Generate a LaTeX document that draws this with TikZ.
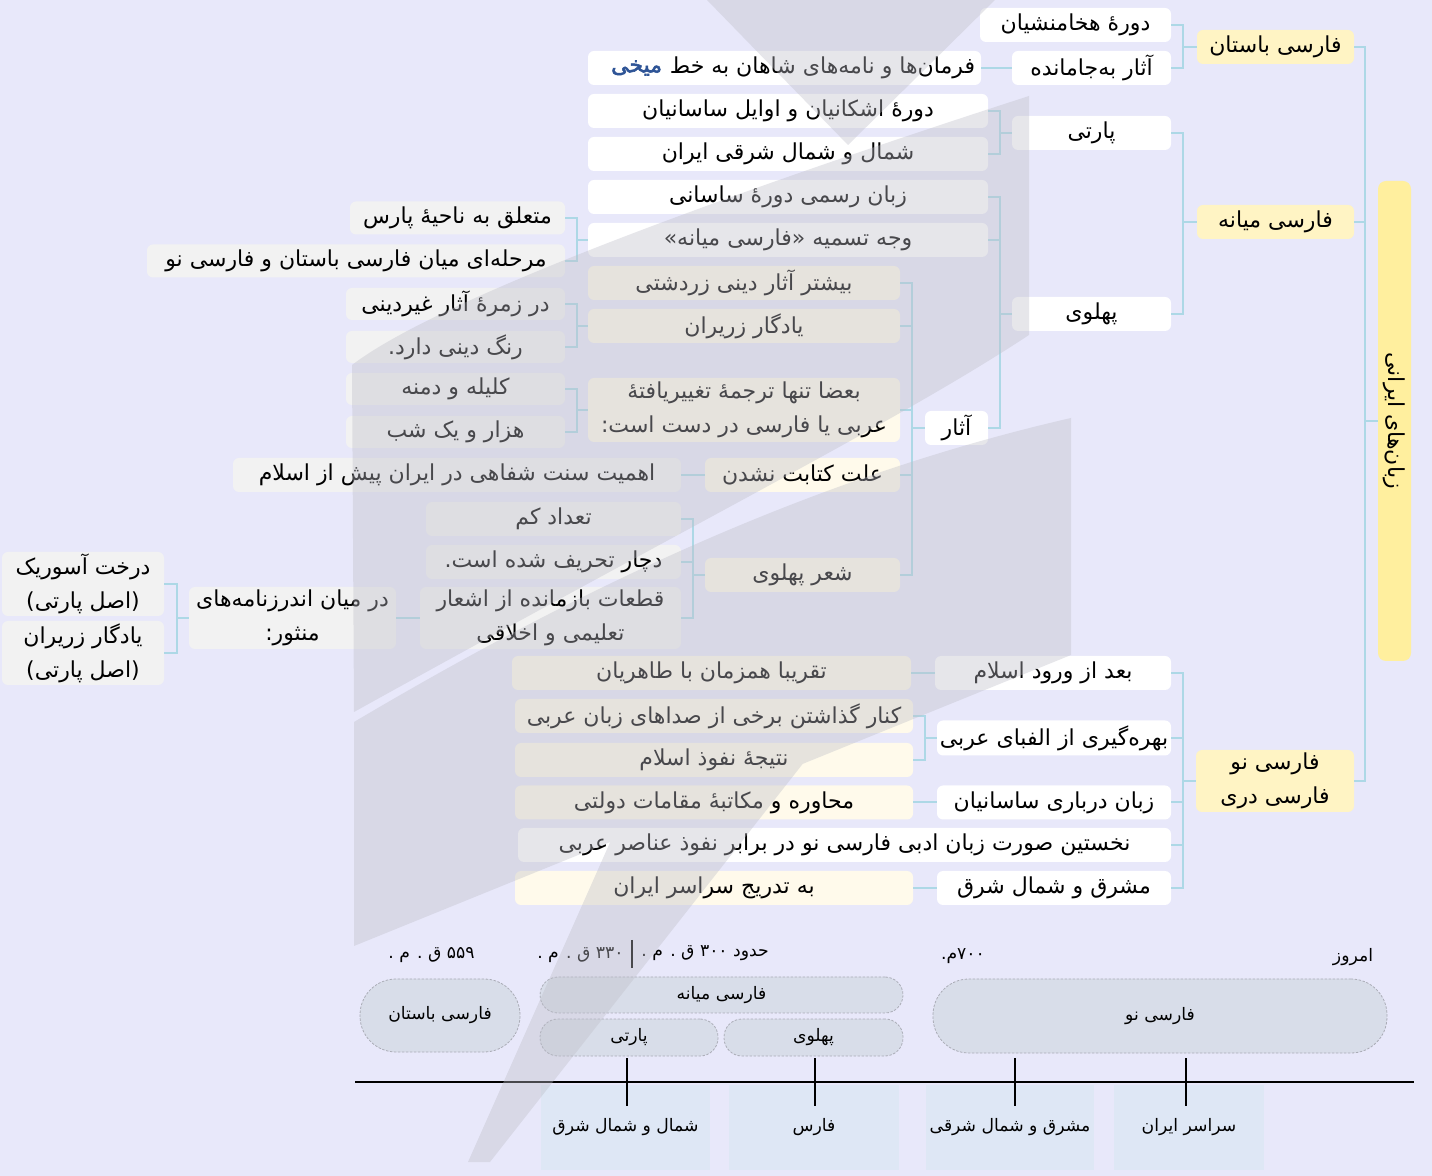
\documentclass[tikz,border=0pt]{standalone}
\usepackage{fontspec}
\newfontfamily\farsi[Script=Arabic]{DejaVu Sans}
\newfontfamily\farsibold[Script=Arabic,FakeBold=2.5]{DejaVu Sans}
\TeXXeTstate=1
\newcommand\rl[1]{\beginR #1\endR}
\definecolor{pagebg}{RGB}{232,232,250}
\definecolor{linkblue}{RGB}{173,216,230}
\definecolor{rootyellow}{RGB}{255,239,158}
\definecolor{langyellow}{RGB}{255,244,196}
\definecolor{creamfill}{RGB}{255,250,235}
\definecolor{palegrey}{RGB}{242,242,242}
\definecolor{mikhiblue}{RGB}{46,84,150}
\definecolor{erafill}{RGB}{216,221,233}
\definecolor{eraedge}{RGB}{170,172,182}
\definecolor{regionfill}{RGB}{222,231,245}
\definecolor{veilgrey}{RGB}{190,190,200}

\begin{document}
\begin{tikzpicture}[x=0.5pt, y=-0.5pt,
  wh/.style 2 args={minimum width=#1*0.5pt, minimum height=#2*0.5pt},
  box/.style={rounded corners=3pt, inner sep=0pt, align=center,
    font=\farsi\fontsize{11}{17}\selectfont},
  rootbox/.style={box, fill=rootyellow, rounded corners=4pt},
  langbox/.style={box, fill=langyellow},
  whitebox/.style={box, fill=white},
  creambox/.style={box, fill=creamfill},
  greybox/.style={box, fill=palegrey},
  link/.style={draw=linkblue, line width=1pt},
  erabox/.style={box, fill=erafill, draw=eraedge, line width=0.4pt,
    dash pattern=on 1.2pt off 0.8pt, rounded corners=9pt,
    font=\farsi\fontsize{8.6}{10}\selectfont},
  regionbox/.style={box, fill=regionfill, rounded corners=0pt,
    font=\farsi\fontsize{8.6}{10}\selectfont},
  datelabel/.style={inner sep=0pt, font=\farsi\fontsize{8.6}{10}\selectfont},
  axisline/.style={draw=black, line width=1.1pt},
  veil/.style={fill=veilgrey, opacity=0.38}]

  % Page
  \fill[pagebg] (0,0) rectangle (1432,1176);
  \useasboundingbox (0,0) rectangle (1432,1176);

  % Root bar
  \node[rootbox, wh={33}{480}] (root) at (1394.5,421) {};
  \node[box, rotate=-90] (rootlabel) at (root.center) {\rl{زبان‌های ایرانی}};

  % Main branches
  \node[langbox, wh={157}{34}] (bastan) at (1275.5,47) {\rl{فارسی باستان}};
  \node[langbox, wh={157}{34}] (miane) at (1275.5,222) {\rl{فارسی میانه}};
  \node[langbox, wh={158}{62}] (nou) at (1275,781) {\rl{فارسی نو}\\\rl{فارسی دری}};

  % Old Persian
  \node[whitebox, wh={191}{34}] (hakh) at (1075.5,25) {\rl{دورهٔ هخامنشیان}};
  \node[whitebox, wh={159}{34}] (bejamande) at (1091.5,68) {\rl{آثار به‌جامانده}};
  \node[whitebox, wh={393}{34}] (farman) at (784.5,68) {};
  \node[box, anchor=east] (farmantext) at ([xshift=-3pt]farman.east)
    {\rl{فرمان‌ها و نامه‌های شاهان به خط}};
  \node[box, anchor=east, text=mikhiblue, font=\farsibold\fontsize{11}{17}\selectfont]
    (mikhi) at ([xshift=-3.5pt]farmantext.west) {\rl{میخی}};

  % Middle Persian
  \node[whitebox, wh={159}{34}] (parti) at (1091.5,133) {\rl{پارتی}};
  \node[whitebox, wh={400}{34}] (ashk) at (788,111) {\rl{دورهٔ اشکانیان و اوایل ساسانیان}};
  \node[whitebox, wh={400}{34}] (shomal) at (788,154) {\rl{شمال و شمال شرقی ایران}};
  \node[whitebox, wh={159}{34}] (pahlavi) at (1091.5,314) {\rl{پهلوی}};
  \node[whitebox, wh={400}{34}] (rasmi) at (788,197) {\rl{زبان رسمی دورهٔ ساسانی}};
  \node[whitebox, wh={400}{34}] (vajh) at (788,240) {\rl{وجه تسمیه «فارسی میانه»}};
  \node[greybox, wh={215}{33}] (motaalegh) at (457.5,218) {\rl{متعلق به ناحیهٔ پارس}};
  \node[greybox, wh={418}{33}] (marhale) at (356,261) {\rl{مرحله‌ای میان فارسی باستان و فارسی نو}};
  \node[whitebox, wh={63}{34}] (asar) at (956.5,428) {\rl{آثار}};
  \node[creambox, wh={312}{34}] (bishtar) at (744,283) {\rl{بیشتر آثار دینی زردشتی}};
  \node[creambox, wh={312}{34}] (yadegar) at (744,326) {\rl{یادگار زریران}};
  \node[greybox, wh={219}{32}] (zomre) at (455.5,304) {\rl{در زمرهٔ آثار غیردینی}};
  \node[greybox, wh={219}{32}] (rang) at (455.5,347) {\rl{رنگ دینی دارد.}};
  \node[creambox, wh={312}{64}] (bazi) at (744,410)
    {\rl{بعضا تنها ترجمهٔ تغییریافتهٔ}\\\rl{عربی یا فارسی در دست است:}};
  \node[greybox, wh={219}{32}] (kalile) at (455.5,389) {\rl{کلیله و دمنه}};
  \node[greybox, wh={219}{32}] (hezar) at (455.5,432) {\rl{هزار و یک شب}};
  \node[creambox, wh={195}{34}] (ellat) at (802.5,475) {\rl{علت کتابت نشدن}};
  \node[greybox, wh={448}{34}] (ahammiat) at (457,475) {\rl{اهمیت سنت شفاهی در ایران پیش از اسلام}};
  \node[creambox, wh={195}{34}] (sher) at (802.5,575) {\rl{شعر پهلوی}};
  \node[greybox, wh={255}{34}] (tedad) at (553.5,519) {\rl{تعداد کم}};
  \node[greybox, wh={255}{34}] (dochar) at (553.5,562) {\rl{دچار تحریف شده است.}};
  \node[greybox, wh={261}{62}] (ghataat) at (550.5,618)
    {\rl{قطعات بازمانده از اشعار}\\\rl{تعلیمی و اخلاقی}};
  \node[greybox, wh={207}{62}] (andarz) at (292.5,618)
    {\rl{در میان اندرزنامه‌های}\\\rl{منثور:}};
  \node[greybox, wh={162}{64}] (asurik) at (83,584)
    {\rl{درخت آسوریک}\\\rl{(اصل پارتی)}};
  \node[greybox, wh={162}{64}] (zariran) at (83,653)
    {\rl{یادگار زریران}\\\rl{(اصل پارتی)}};

  % New Persian
  \node[whitebox, wh={236}{34}] (vorud) at (1053,673) {\rl{بعد از ورود اسلام}};
  \node[creambox, wh={399}{34}] (taherian) at (711.5,673) {\rl{تقریبا همزمان با طاهریان}};
  \node[whitebox, wh={234}{35}] (alefba) at (1054,738) {\rl{بهره‌گیری از الفبای عربی}};
  \node[creambox, wh={398}{34}] (kenar) at (714,716) {\rl{کنار گذاشتن برخی از صداهای زبان عربی}};
  \node[creambox, wh={398}{34}] (natije) at (714,760) {\rl{نتیجهٔ نفوذ اسلام}};
  \node[whitebox, wh={234}{34}] (darbari) at (1054,802.5) {\rl{زبان درباری ساسانیان}};
  \node[creambox, wh={398}{34}] (mohavere) at (714,802.5) {\rl{محاوره و مکاتبهٔ مقامات دولتی}};
  \node[whitebox, wh={653}{34}] (nokhostin) at (844.5,845)
    {\rl{نخستین صورت زبان ادبی فارسی نو در برابر نفوذ عناصر عربی}};
  \node[whitebox, wh={234}{34}] (mashregh) at (1054,888) {\rl{مشرق و شمال شرق}};
  \node[creambox, wh={398}{34}] (tadrij) at (714,888) {\rl{به تدریج سراسر ایران}};

  % Connectors
  \draw[link] (root.west) -- ++(-13,0) |- (bastan.east);
  \draw[link] (root.west) -- ++(-13,0) |- (miane.east);
  \draw[link] (root.west) -- ++(-13,0) |- (nou.east);
  \draw[link] (bastan.west) -- ++(-14,0) |- (hakh.east);
  \draw[link] (bastan.west) -- ++(-14,0) |- (bejamande.east);
  \draw[link] (bejamande.west) -- (farman.east);
  \draw[link] (miane.west) -- ++(-14,0) |- (parti.east);
  \draw[link] (miane.west) -- ++(-14,0) |- (pahlavi.east);
  \draw[link] (parti.west) -- ++(-12,0) |- (ashk.east);
  \draw[link] (parti.west) -- ++(-12,0) |- (shomal.east);
  \draw[link] (pahlavi.west) -- ++(-12,0) |- (rasmi.east);
  \draw[link] (pahlavi.west) -- ++(-12,0) |- (vajh.east);
  \draw[link] (pahlavi.west) -- ++(-12,0) |- (asar.east);
  \draw[link] (vajh.west) -- ++(-11,0) |- (motaalegh.east);
  \draw[link] (vajh.west) -- ++(-11,0) |- (marhale.east);
  \draw[link] (asar.west) -- ++(-13,0) |- (bishtar.east);
  \draw[link] (asar.west) -- ++(-13,0) |- (yadegar.east);
  \draw[link] (asar.west) -- ++(-13,0) |- (bazi.east);
  \draw[link] (asar.west) -- ++(-13,0) |- (ellat.east);
  \draw[link] (asar.west) -- ++(-13,0) |- (sher.east);
  \draw[link] (yadegar.west) -- ++(-11,0) |- (zomre.east);
  \draw[link] (yadegar.west) -- ++(-11,0) |- (rang.east);
  \draw[link] (bazi.west) -- ++(-11,0) |- (kalile.east);
  \draw[link] (bazi.west) -- ++(-11,0) |- (hezar.east);
  \draw[link] (ellat.west) -- (ahammiat.east);
  \draw[link] (sher.west) -- ++(-12,0) |- (tedad.east);
  \draw[link] (sher.west) -- ++(-12,0) |- (dochar.east);
  \draw[link] (sher.west) -- ++(-12,0) |- (ghataat.east);
  \draw[link] (ghataat.west) -- (andarz.east);
  \draw[link] (andarz.west) -- ++(-12,0) |- (asurik.east);
  \draw[link] (andarz.west) -- ++(-12,0) |- (zariran.east);
  \draw[link] (nou.west) -- ++(-13,0) |- (vorud.east);
  \draw[link] (nou.west) -- ++(-13,0) |- (alefba.east);
  \draw[link] (nou.west) -- ++(-13,0) |- (darbari.east);
  \draw[link] (nou.west) -- ++(-13,0) |- (nokhostin.east);
  \draw[link] (nou.west) -- ++(-13,0) |- (mashregh.east);
  \draw[link] (vorud.west) -- (taherian.east);
  \draw[link] (alefba.west) -- ++(-12,0) |- (kenar.east);
  \draw[link] (alefba.west) -- ++(-12,0) |- (natije.east);
  \draw[link] (darbari.west) -- (mohavere.east);
  \draw[link] (mashregh.west) -- (tadrij.east);

  % Timeline: regions under the axis
  \node[regionbox, wh={169}{85}] (rShomal) at (625.5,1127.5) {\rl{شمال و شمال شرق}};
  \node[regionbox, wh={170}{85}] (rFars) at (814,1127.5) {\rl{فارس}};
  \node[regionbox, wh={168}{85}] (rMashregh) at (1010,1127.5) {\rl{مشرق و شمال شرقی}};
  \node[regionbox, wh={150}{85}] (rSarasar) at (1189,1127.5) {\rl{سراسر ایران}};

  % Timeline: periods
  \node[erabox, wh={160}{73}, rounded corners=18pt] (eBastan) at (440,1015.5) {\rl{فارسی باستان}};
  \node[erabox, wh={363}{36}] (eMiane) at (721.5,995) {\rl{فارسی میانه}};
  \node[erabox, wh={178}{37}] (eParti) at (629,1037.5) {\rl{پارتی}};
  \node[erabox, wh={179}{37}] (ePahlavi) at (813.5,1037.5) {\rl{پهلوی}};
  \node[erabox, wh={454}{74}, rounded corners=18pt] (eNou) at (1160,1016) {\rl{فارسی نو}};

  % Timeline: dates
  \node[datelabel] (d559) at (431.5,955) {\rl{۵۵۹ ق . م .}};
  \node[datelabel, anchor=west] (d300) at (641,953) {\rl{حدود ۳۰۰ ق . م .}};
  \node[datelabel, anchor=east] (d330) at (624,955) {\rl{۳۳۰ ق . م .}};
  \node[datelabel] (d700) at (963,956) {\rl{۷۰۰م.}};
  \node[datelabel] (dToday) at (1353,957) {\rl{امروز}};
  \draw[line width=1pt] (632,940) -- (632,968);

  % Timeline: axis and ticks
  \draw[axisline] (355,1082) -- (1414,1082);
  \draw[axisline] (627,1058) -- (627,1106);
  \draw[axisline] (815,1058) -- (815,1106);
  \draw[axisline] (1015,1058) -- (1015,1106);
  \draw[axisline] (1186,1058) -- (1186,1106);

  % Watermark
  \fill[veil] (707,0) -- (995,0) -- (848,145) -- cycle
    (352,365) .. controls (450,290) and (800,170) .. (1029,96)
      -- (1029,335) .. controls (900,420) and (700,520) .. (354,712) -- cycle
    (354,722) .. controls (560,600) and (800,480) .. (1071,418)
      -- (1071,655) -- (354,946) -- cycle
    (468,1162) -- (700,640) -- (900,640) -- (490,1162) -- cycle;

\end{tikzpicture}
\end{document}
